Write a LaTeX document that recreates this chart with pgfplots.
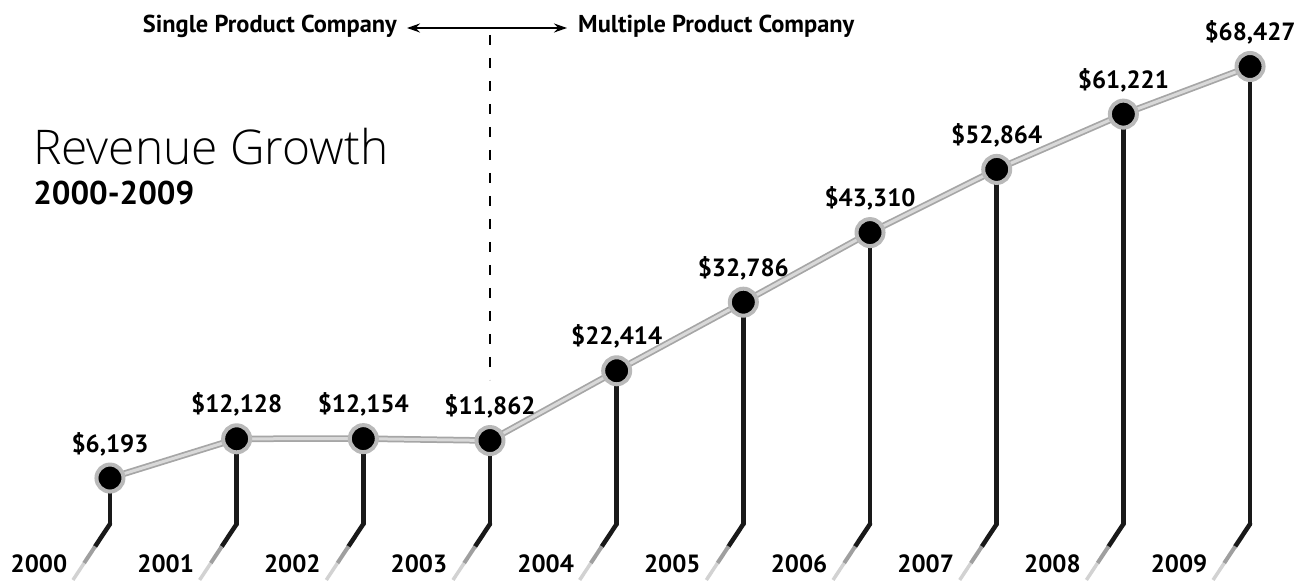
\documentclass[border=0pt]{standalone}
\usepackage{pgfplots}
\pgfplotsset{compat=1.18}
\usepackage{pgfplotstable}
\usepackage{fontspec}
\setmainfont{PT Sans}
\newfontfamily\lightfont{Open Sans Light}
\usetikzlibrary{arrows.meta}

% revenue in $ millions, fiscal years 2000-2009
\pgfplotstableread{
x v yr
0 6193 2000
1 12128 2001
2 12154 2002
3 11862 2003
4 22414 2004
5 32786 2005
6 43310 2006
7 52864 2007
8 61221 2008
9 68427 2009
}\revenue

\begin{document}
\begin{tikzpicture}
\begin{axis}[
    scale only axis,
    width=1312bp, height=583bp,
    xmin=-0.868, xmax=9.489,
    ymin=-9678, ymax=78482,
    hide axis, clip=false,
    /pgf/number format/assume math mode=true]
    \path (rel axis cs:0,0) rectangle (rel axis cs:1,1);

    % vertical stems
    \addplot[mark=none, draw=black!90, line width=4.5bp, line cap=round,
        quiver={u=0, v={-756-\thisrow{v}}}] table[x=x, y=v] {\revenue};
    % slanted feet, fading out
    \addplot[mark=none, draw=black!90, line width=4.5bp, line cap=round,
        quiver={u=-0.117, v=-3387}] table[x=x, y expr=-756] {\revenue};
    \addplot[mark=none, draw=gray!75, line width=4bp,
        quiver={u=-0.0876, v=-2540}] table[x expr=\thisrow{x}-0.117, y expr=-4143] {\revenue};
    \addplot[mark=none, draw=gray!35, line width=3.5bp,
        quiver={u=-0.0876, v=-2541}] table[x expr=\thisrow{x}-0.2044, y expr=-6683] {\revenue};

    % connecting line
    \addplot[mark=none, draw=gray!70, line width=6.5bp] table[x=x, y=v] {\revenue};
    \addplot[mark=none, draw=gray!30, line width=3bp] table[x=x, y=v] {\revenue};

    % markers
    \addplot[only marks, mark=*, mark size=13.5bp,
        mark options={fill=black, draw=gray!55, line width=4bp}] table[x=x, y=v] {\revenue};

    % value labels
    \addplot[draw=none, mark=none, point meta=explicit,
        nodes near coords={\$\pgfmathprintnumber[fixed, precision=0, 1000 sep={,}]{\pgfplotspointmeta}},
        every node near coord/.append style={anchor=base, yshift=26bp,
            font=\fontsize{25}{29}\selectfont\bfseries}]
        table[x=x, y=v, meta=v] {\revenue};

    % year labels
    \addplot[draw=none, mark=none, point meta=explicit symbolic,
        nodes near coords,
        every node near coord/.append style={anchor=base, xshift=-71bp,
            font=\fontsize{25}{29}\selectfont\bfseries}]
        table[x=x, y expr=-8015, meta=yr] {\revenue};

    % product split annotation
    \addplot[mark=none, draw=black, line width=2bp, dash pattern=on 10bp off 13bp]
        coordinates {(3,73190) (3,21019)};
    \draw[{Stealth[length=13bp,width=9bp]}-{Stealth[length=13bp,width=9bp]}, line width=2bp]
        (axis cs:2.345,74248) -- (axis cs:3.608,74248);
    \node[anchor=base east, inner sep=0pt, font=\fontsize{24.5}{28}\selectfont\bfseries]
        at (axis cs:2.266,73492) {Single Product Company};
    \node[anchor=base west, inner sep=0pt, font=\fontsize{24.5}{28}\selectfont\bfseries]
        at (axis cs:3.695,73492) {Multiple Product Company};

    % title
    \node[anchor=base west, inner sep=0pt, font=\lightfont\fontsize{48}{56}\selectfont]
        at (rel axis cs:0.0252,0.717) {Revenue Growth};
    \node[anchor=base west, inner sep=0pt, font=\fontsize{33}{38}\selectfont\bfseries]
        at (rel axis cs:0.0252,0.6484) {2000-2009};
\end{axis}
\end{tikzpicture}
\end{document}
